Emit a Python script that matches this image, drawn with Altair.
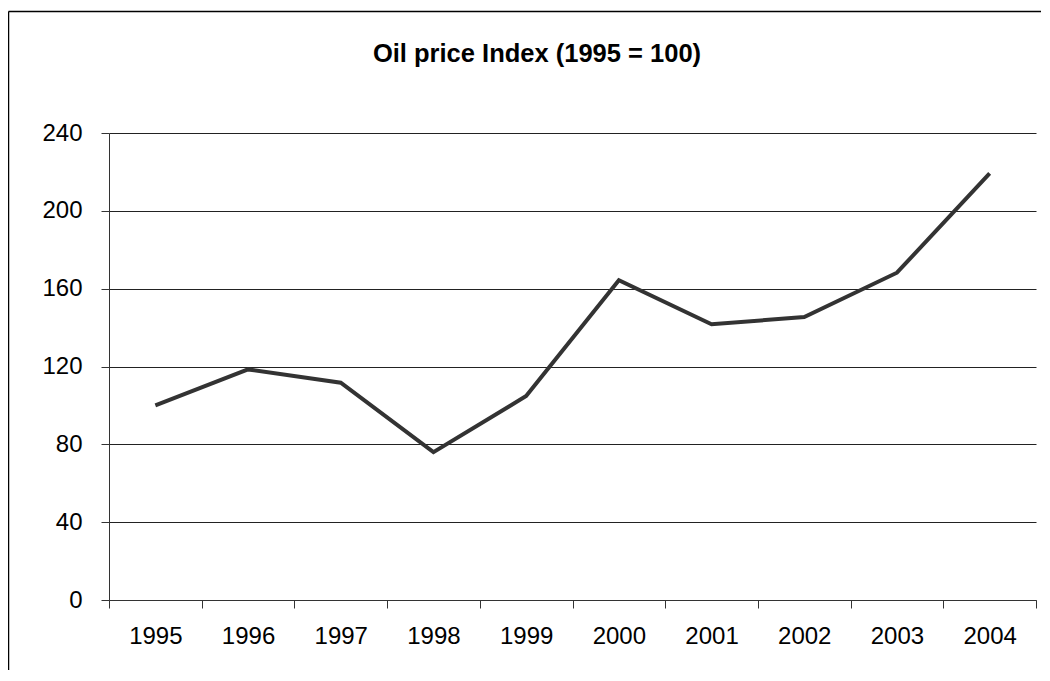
import altair as alt
import pandas as pd

years = ["1995", "1996", "1997", "1998", "1999", "2000", "2001", "2002", "2003", "2004"]
index_values = [100, 118.5, 111.7, 76, 104.8, 164.3, 141.7, 145.4, 168.2, 219.3]
y_ticks = [0, 40, 80, 120, 160, 200, 240]
title_text = "Oil price Index (1995 = 100)"

df = pd.DataFrame({"year": years, "value": index_values})

FONT = "Liberation Sans"

line = alt.Chart(df).mark_line(color="#333333", strokeWidth=4, strokeJoin="miter").encode(
    x=alt.X("year:O", bandPosition=0.5,
            scale=alt.Scale(type="band", paddingInner=0, paddingOuter=0),
            axis=alt.Axis(title=None, labelAngle=0, tickBand="extent", grid=False,
                          tickSize=8, tickColor="#333333", domainColor="#333333",
                          labelPadding=16, labelFontSize=24, labelFont=FONT,
                          labelColor="#000000")),
    y=alt.Y("value:Q", scale=alt.Scale(domain=[0, 240], nice=False),
            axis=alt.Axis(title=None, values=y_ticks, grid=True, gridColor="#222222",
                          gridOpacity=1, tickSize=8, tickColor="#333333",
                          domainColor="#333333", labelPadding=19, labelFontSize=24,
                          labelFont=FONT, labelColor="#000000")),
)

frame_data = alt.Data(values=[{"t": title_text}])
left_border = alt.Chart(frame_data).mark_rule(color="#000000", strokeWidth=1.5).encode(
    x=alt.value(-100.5), y=alt.value(-121.5), y2=alt.value(600)
)
top_border = alt.Chart(frame_data).mark_rule(color="#000000", strokeWidth=1.5).encode(
    x=alt.value(-100.5), x2=alt.value(1000), y=alt.value(-121.5)
)
title = alt.Chart(frame_data).mark_text(
    font=FONT, fontSize=25.5, fontWeight="bold", color="#000000",
    align="center", baseline="alphabetic"
).encode(text="t:N", x=alt.value(428), y=alt.value(-71))

chart = alt.layer(line, left_border, top_border, title).properties(
    width=927, height=467,
    autosize=alt.AutoSizeParams(type="none"),
    padding={"left": 101, "top": 125, "right": 5, "bottom": 70},
).configure_view(stroke=None)

chart.save("out.html", embed_options={"renderer": "svg", "actions": False})
